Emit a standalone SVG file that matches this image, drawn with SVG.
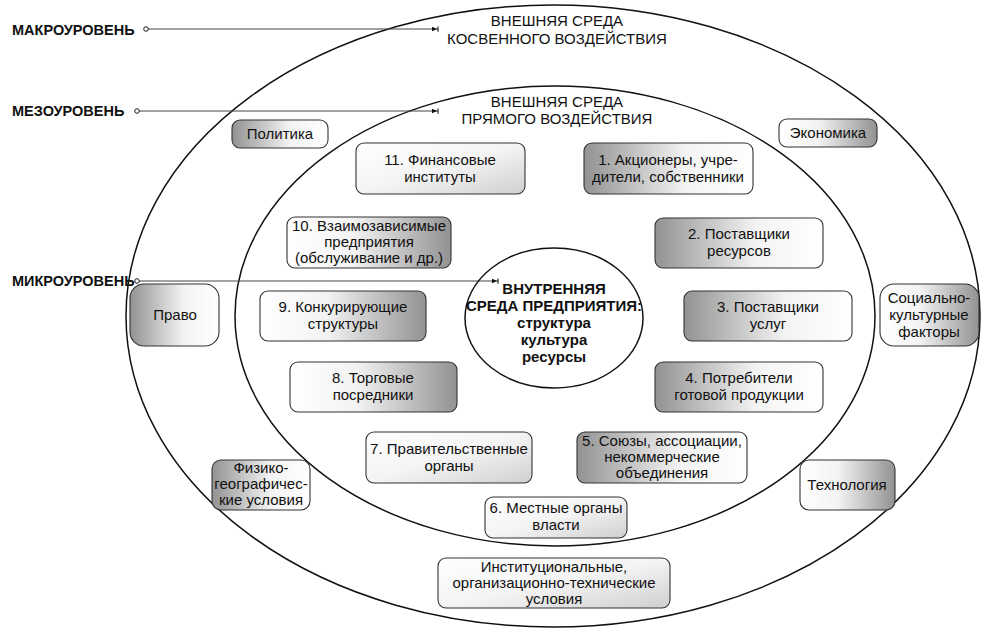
<svg xmlns="http://www.w3.org/2000/svg" width="992" height="635" viewBox="0 0 992 635">
<defs>
<linearGradient id="gL" x1="0" y1="0" x2="1" y2="0">
<stop offset="0" stop-color="#929292"/><stop offset="0.6" stop-color="#f3f3f3"/><stop offset="1" stop-color="#ffffff"/>
</linearGradient>
<linearGradient id="gR" x1="0" y1="0" x2="1" y2="0">
<stop offset="0" stop-color="#ffffff"/><stop offset="0.4" stop-color="#f3f3f3"/><stop offset="1" stop-color="#929292"/>
</linearGradient>
<linearGradient id="gW" x1="0" y1="0" x2="1" y2="1">
<stop offset="0" stop-color="#ffffff"/><stop offset="0.5" stop-color="#f4f4f4"/><stop offset="1" stop-color="#cfcfcf"/>
</linearGradient>
<marker id="mEnd" viewBox="0 0 8 8" refX="7" refY="4" markerWidth="7" markerHeight="7" markerUnits="userSpaceOnUse" orient="auto">
<path d="M0,1.5 L6,4 L0,6.5 z" fill="#111"/><line x1="7" y1="1" x2="7" y2="7" stroke="#111" stroke-width="1.2"/>
</marker>
<marker id="mStart" viewBox="0 0 8 8" refX="4" refY="4" markerWidth="7" markerHeight="7" markerUnits="userSpaceOnUse" orient="auto">
<circle cx="4" cy="4" r="2.6" fill="#fff" stroke="#111" stroke-width="1.1"/>
</marker>
</defs>
<style>
text{font-family:"Liberation Sans",Arial,sans-serif;fill:#111}
.t{font-size:15px;text-anchor:middle}
.h{font-size:15px;text-anchor:middle}
.lv{font-size:14.5px;font-weight:bold}
.c{font-size:15px;font-weight:bold;text-anchor:middle}
.ring{fill:none;stroke:#111;stroke-width:1.5}
.b{stroke:#333;stroke-width:1.1}
.l{fill:url(#gL)}
.r{fill:url(#gR)}
.w{fill:url(#gW)}
.con{stroke:#444;stroke-width:1;fill:none;marker-start:url(#mStart);marker-end:url(#mEnd)}
</style>
<rect width="992" height="635" fill="#fff"/>

<g id="rings">
<ellipse class="ring" cx="553" cy="316" rx="427" ry="311"/>
<ellipse class="ring" cx="555" cy="316" rx="320" ry="230"/>
</g>

<g id="titles">
<text class="h" x="557" y="26">ВНЕШНЯЯ СРЕДА</text>
<text class="h" x="557" y="44">КОСВЕННОГО ВОЗДЕЙСТВИЯ</text>
<text class="h" x="557" y="107">ВНЕШНЯЯ СРЕДА</text>
<text class="h" x="557" y="124">ПРЯМОГО ВОЗДЕЙСТВИЯ</text>
</g>

<g id="levels">
<text class="lv" x="12" y="35">МАКРОУРОВЕНЬ</text>
<text class="lv" x="12" y="116">МЕЗОУРОВЕНЬ</text>
<text class="lv" x="12" y="286">МИКРОУРОВЕНЬ</text>
</g>

<g id="connectors">
<line class="con" x1="146" y1="29" x2="438" y2="29"/>
<line class="con" x1="137" y1="111" x2="438" y2="111"/>
<line class="con" x1="137" y1="281" x2="498" y2="281"/>
</g>

<g id="center">
<ellipse class="ring" cx="554" cy="318" rx="89" ry="70" fill="#fff"/>
<text class="c" x="554" y="294">ВНУТРЕННЯЯ</text>
<text class="c" x="554" y="311">СРЕДА ПРЕДПРИЯТИЯ:</text>
<text class="c" x="554" y="328">структура</text>
<text class="c" x="554" y="345">культура</text>
<text class="c" x="554" y="362">ресурсы</text>
</g>

<g id="politika"><rect class="b l" x="232" y="120" width="96" height="28" rx="8"/><text class="t" x="280" y="139">Политика</text></g>
<g id="ekonomika"><rect class="b r" x="779" y="119" width="98" height="28" rx="8"/><text class="t" x="828" y="138">Экономика</text></g>
<g id="n11"><rect class="b w" x="356" y="143" width="169" height="51" rx="8"/><text class="t" x="440" y="165">11. Финансовые</text><text class="t" x="440" y="182">институты</text></g>
<g id="n1"><rect class="b l" x="584" y="143" width="169" height="51" rx="8"/><text class="t" x="668" y="165">1. Акционеры, учре-</text><text class="t" x="668" y="182">дители, собственники</text></g>
<g id="n10"><rect class="b r" x="287" y="217" width="164" height="51" rx="8"/><text class="t" x="369" y="231">10. Взаимозависимые</text><text class="t" x="369" y="247">предприятия</text><text class="t" x="369" y="263">(обслуживание и др.)</text></g>
<g id="n2"><rect class="b l" x="655" y="218" width="168" height="50" rx="8"/><text class="t" x="739" y="239">2. Поставщики</text><text class="t" x="739" y="256">ресурсов</text></g>
<g id="pravo"><rect class="b l" x="130" y="284" width="89" height="62" rx="14"/><text class="t" x="175" y="320">Право</text></g>
<g id="n9"><rect class="b r" x="260" y="291" width="166" height="50" rx="8"/><text class="t" x="343" y="312">9. Конкурирующие</text><text class="t" x="343" y="329">структуры</text></g>
<g id="n3"><rect class="b l" x="684" y="291" width="168" height="50" rx="8"/><text class="t" x="768" y="312">3. Поставщики</text><text class="t" x="768" y="329">услуг</text></g>
<g id="social"><rect class="b r" x="880" y="284" width="99" height="62" rx="14"/><text class="t" x="929" y="303">Социально-</text><text class="t" x="929" y="320">культурные</text><text class="t" x="929" y="337">факторы</text></g>
<g id="n8"><rect class="b r" x="290" y="362" width="167" height="50" rx="8"/><text class="t" x="373" y="383">8. Торговые</text><text class="t" x="373" y="400">посредники</text></g>
<g id="n4"><rect class="b l" x="655" y="362" width="168" height="50" rx="8"/><text class="t" x="739" y="383">4. Потребители</text><text class="t" x="739" y="400">готовой продукции</text></g>
<g id="n7"><rect class="b w" x="366" y="432" width="166" height="51" rx="8"/><text class="t" x="449" y="454">7. Правительственные</text><text class="t" x="449" y="471">органы</text></g>
<g id="n5"><rect class="b l" x="577" y="432" width="170" height="51" rx="8"/><text class="t" x="662" y="446">5. Союзы, ассоциации,</text><text class="t" x="662" y="462">некоммерческие</text><text class="t" x="662" y="478">объединения</text></g>
<g id="fiziko"><rect class="b l" x="212" y="460" width="98" height="50" rx="9"/><text class="t" x="261" y="473">Физико-</text><text class="t" x="261" y="489">географичес-</text><text class="t" x="261" y="505">кие условия</text></g>
<g id="tech"><rect class="b r" x="800" y="460" width="95" height="50" rx="9"/><text class="t" x="847" y="490">Технология</text></g>
<g id="n6"><rect class="b w" x="485" y="497" width="142" height="41" rx="8"/><text class="t" x="556" y="513">6. Местные органы</text><text class="t" x="556" y="530">власти</text></g>
<g id="inst"><rect class="b w" x="438" y="558" width="232" height="50" rx="8"/><text class="t" x="554" y="572">Институциональные,</text><text class="t" x="554" y="588">организационно-технические</text><text class="t" x="554" y="604">условия</text></g>
</svg>
